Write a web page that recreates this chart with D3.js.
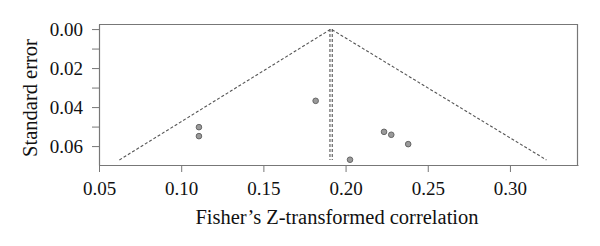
<!DOCTYPE html>
<html>
<head>
<meta charset="utf-8">
<script src="https://cdn.jsdelivr.net/npm/d3@7"></script>
<style>
  html, body { margin: 0; padding: 0; background: #fff; }
  svg { display: block; }
</style>
</head>
<body>
<div id="chart"></div>
<script>
// ---- Data ----
const effectZ = [0.1108, 0.1108, 0.1818, 0.2027, 0.2234, 0.2278, 0.2381];
const stdErr  = [0.0503, 0.0549, 0.0368, 0.0670, 0.0527, 0.0542, 0.0590];
const funnelX = [0.0624, 0.1911, 0.3222];
const funnelY = [0.0671, 0.0000, 0.0671];
const estimateLines = [0.1905, 0.1919];
const estimateLineSE = [0.0000, 0.0671];
const xTicks = [0.05, 0.10, 0.15, 0.20, 0.25, 0.30];
const yTicksMajor = [0.00, 0.02, 0.04, 0.06];
const yTicksMinor = [0.01, 0.03, 0.05];
const xTitle = "Fisher\u2019s Z-transformed correlation";
const yTitle = "Standard error";

// ---- Layout ----
const W = 600, H = 246;
const m = { left: 99, right: 22, top: 24, bottom: 81 };
const iw = W - m.left - m.right, ih = H - m.top - m.bottom;
const serif = "'Liberation Serif', 'DejaVu Serif', serif";

const svg = d3.select("#chart").append("svg").attr("width", W).attr("height", H);
const g = svg.append("g").attr("transform", `translate(${m.left},${m.top})`);

const x = d3.scaleLinear().domain([0.05, 0.3414]).range([0, iw]);
const y = d3.scaleLinear().domain([-0.0026, 0.0697]).range([0, ih]);

const axisColor = "#777";

// Box (top and right)
g.append("line").attr("x1", 0).attr("x2", iw).attr("y1", 0.5).attr("y2", 0.5)
  .attr("stroke", axisColor).attr("stroke-width", 1.2);
g.append("line").attr("x1", iw - 0.5).attr("x2", iw - 0.5).attr("y1", 0).attr("y2", ih)
  .attr("stroke", axisColor).attr("stroke-width", 1.2);

// X axis
const xAxis = g.append("g").attr("transform", `translate(0,${ih})`)
  .call(d3.axisBottom(x).tickValues(xTicks).tickFormat(d3.format(".2f")).tickSize(7).tickSizeOuter(0));
xAxis.select(".domain").attr("stroke", axisColor).attr("stroke-width", 1.2);
xAxis.selectAll(".tick line").attr("stroke", axisColor);
xAxis.selectAll(".tick text").attr("y", 29.5).attr("dy", 0)
  .attr("font-family", serif).attr("font-size", 19).attr("fill", "#111");

// Y axis (major with labels)
const yAxis = g.append("g")
  .call(d3.axisLeft(y).tickValues(yTicksMajor).tickFormat(d3.format(".2f")).tickSize(7).tickSizeOuter(0));
yAxis.select(".domain").attr("stroke", axisColor).attr("stroke-width", 1.2);
yAxis.selectAll(".tick line").attr("stroke", axisColor);
yAxis.selectAll(".tick text").attr("x", -16).attr("dy", "0.33em")
  .attr("font-family", serif).attr("font-size", 19).attr("fill", "#111");
// minor ticks
const yMinor = g.append("g")
  .call(d3.axisLeft(y).tickValues(yTicksMinor).tickFormat("").tickSize(7).tickSizeOuter(0));
yMinor.select(".domain").remove();
yMinor.selectAll(".tick line").attr("stroke", axisColor);

// Funnel lines
const dash = "3,2";
g.append("path")
  .attr("d", d3.line().x(d => x(d[0])).y(d => y(d[1]))(d3.zip(funnelX, funnelY)))
  .attr("fill", "none").attr("stroke", "#555").attr("stroke-width", 1.1)
  .attr("stroke-dasharray", dash);

// Vertical estimate lines
g.selectAll("line.est").data(estimateLines).enter().append("line")
  .attr("class", "est")
  .attr("x1", d => x(d)).attr("x2", d => x(d))
  .attr("y1", y(estimateLineSE[0])).attr("y2", y(estimateLineSE[1]))
  .attr("stroke", "#555").attr("stroke-width", 1.1).attr("stroke-dasharray", dash);

// Points
g.selectAll("circle.pt").data(effectZ).enter().append("circle")
  .attr("class", "pt")
  .attr("cx", d => x(d)).attr("cy", (d, i) => y(stdErr[i]))
  .attr("r", 2.8)
  .attr("fill", "#9a9a9a").attr("stroke", "#666").attr("stroke-width", 1);

// Axis titles
svg.append("text")
  .attr("x", 337).attr("y", 224)
  .attr("text-anchor", "middle")
  .attr("font-family", serif).attr("font-size", 20.5).attr("fill", "#111")
  .text(xTitle);
svg.append("text")
  .attr("transform", `translate(37,98) rotate(-90)`)
  .attr("text-anchor", "middle")
  .attr("font-family", serif).attr("font-size", 20.5).attr("fill", "#111")
  .text(yTitle);
</script>
</body>
</html>
